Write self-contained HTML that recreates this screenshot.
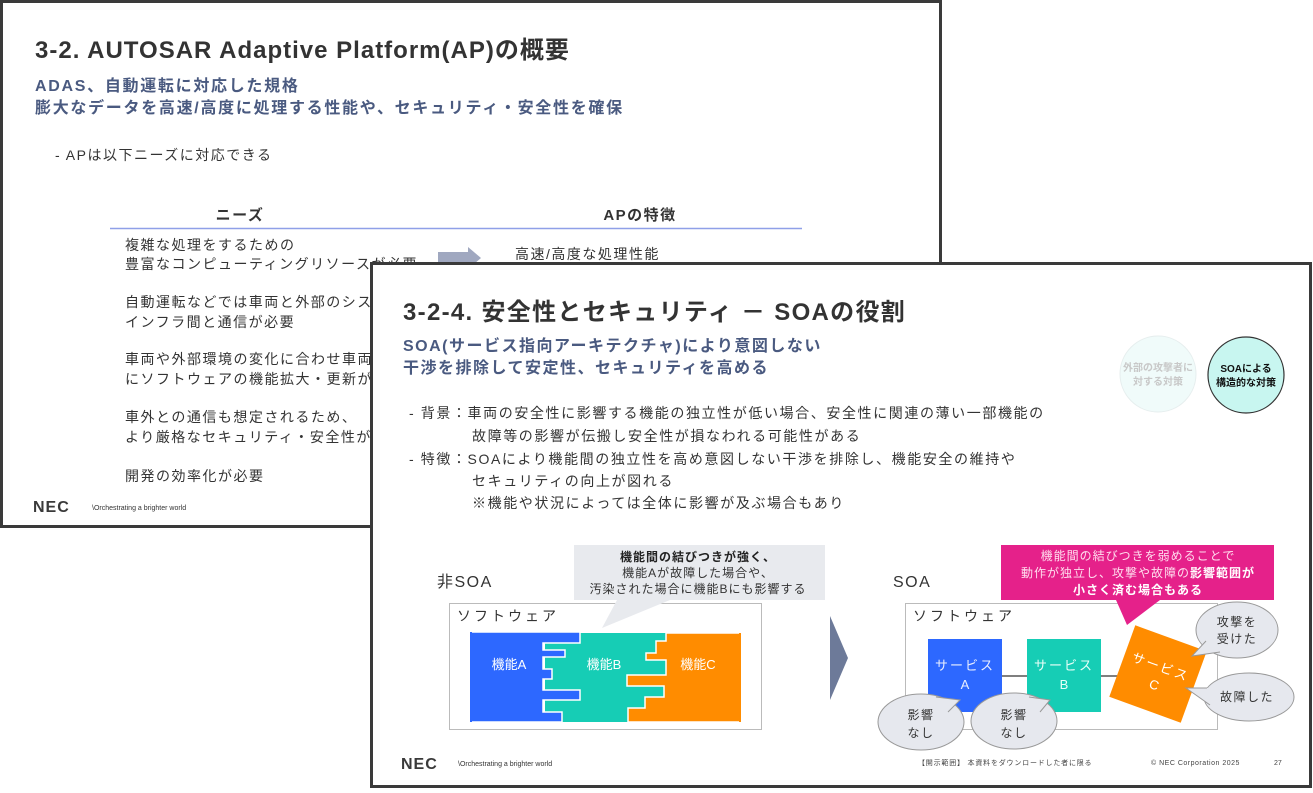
<!DOCTYPE html>
<html><head><meta charset="utf-8"><style>
body{margin:0;background:#fff}
svg text{font-family:"Liberation Sans","Noto Sans CJK JP",sans-serif}
.j{letter-spacing:1.5px}
</style></head><body>
<svg width="1313" height="788" viewBox="0 0 1313 788" xmlns="http://www.w3.org/2000/svg">
<!-- back slide -->
<rect x="1.5" y="1.5" width="939" height="525" fill="#fff" stroke="#3a3a3a" stroke-width="3"/>
<text x="35" y="58" font-size="24" font-weight="bold" fill="#333" letter-spacing="1">3-2. AUTOSAR Adaptive Platform(AP)の概要</text>
<text x="35" y="91" font-size="16" font-weight="bold" fill="#4a5a80" letter-spacing="1.7">ADAS、自動運転に対応した規格</text>
<text x="35" y="113" font-size="16" font-weight="bold" fill="#4a5a80" letter-spacing="1.7">膨大なデータを高速/高度に処理する性能や、セキュリティ・安全性を確保</text>
<text x="55" y="160" font-size="14" fill="#333" class="j">- APは以下ニーズに対応できる</text>
<text x="240" y="220" font-size="15" font-weight="bold" fill="#333" text-anchor="middle" class="j">ニーズ</text>
<text x="640" y="220" font-size="15" font-weight="bold" fill="#333" text-anchor="middle" class="j">APの特徴</text>
<line x1="110" y1="228.5" x2="802" y2="228.5" stroke="#8fa0e8" stroke-width="1.5"/>
<g font-size="14" fill="#333" class="j">
<text x="125" y="250">複雑な処理をするための</text>
<text x="125" y="269">豊富なコンピューティングリソースが必要</text>
<text x="125" y="307">自動運転などでは車両と外部のシステム・</text>
<text x="125" y="327">インフラ間と通信が必要</text>
<text x="125" y="364">車両や外部環境の変化に合わせ車両の</text>
<text x="125" y="384">にソフトウェアの機能拡大・更新が必要</text>
<text x="125" y="422">車外との通信も想定されるため、</text>
<text x="125" y="442">より厳格なセキュリティ・安全性が必要</text>
<text x="125" y="481">開発の効率化が必要</text>
<text x="515" y="259">高速/高度な処理性能</text>
</g>
<polygon points="438,252 468,252 468,247 481,258 468,269 468,264 438,264" fill="#a0a8c0"/>
<text x="33" y="512" font-size="16" font-weight="bold" fill="#3a3a3a" letter-spacing="1">NEC</text>
<text x="92" y="510" font-size="7" fill="#333">\Orchestrating a brighter world</text>

<!-- front slide -->
<rect x="371.5" y="263.5" width="939" height="523" fill="#fff" stroke="#3a3a3a" stroke-width="3"/>
<text x="403" y="320" font-size="24" font-weight="bold" fill="#333" letter-spacing="1.3">3-2-4. 安全性とセキュリティ － SOAの役割</text>
<text x="403" y="351" font-size="16" font-weight="bold" fill="#4a5a80" letter-spacing="1.5">SOA(サービス指向アーキテクチャ)により意図しない</text>
<text x="403" y="373" font-size="16" font-weight="bold" fill="#4a5a80" letter-spacing="1.5">干渉を排除して安定性、セキュリティを高める</text>
<circle cx="1158" cy="374" r="38" fill="#f0fbfa" stroke="#e6eeee"/>
<text x="1158" y="371" font-size="10" fill="#c8c8c8" text-anchor="middle" font-weight="bold">外部の攻撃者に</text>
<text x="1158" y="385" font-size="10" fill="#c8c8c8" text-anchor="middle" font-weight="bold">対する対策</text>
<circle cx="1246" cy="375" r="38" fill="#c8f6f0" stroke="#333" stroke-width="1.2"/>
<text x="1246" y="372" font-size="10" fill="#111" text-anchor="middle" font-weight="bold">SOAによる</text>
<text x="1246" y="386" font-size="10" fill="#111" text-anchor="middle" font-weight="bold">構造的な対策</text>
<g font-size="14" fill="#333" letter-spacing="1.6">
<text x="409" y="418">-  背景：車両の安全性に影響する機能の独立性が低い場合、安全性に関連の薄い一部機能の</text>
<text x="472" y="441">故障等の影響が伝搬し安全性が損なわれる可能性がある</text>
<text x="409" y="464">-  特徴：SOAにより機能間の独立性を高め意図しない干渉を排除し、機能安全の維持や</text>
<text x="472" y="486">セキュリティの向上が図れる</text>
<text x="472" y="508">※機能や状況によっては全体に影響が及ぶ場合もあり</text>
</g>
<!-- non SOA -->
<text x="437" y="587" font-size="16" fill="#333" class="j">非SOA</text>
<rect x="449.5" y="603.5" width="312" height="126" fill="#fff" stroke="#bbb"/>
<text x="457" y="621" font-size="14" fill="#333" letter-spacing="3">ソフトウェア</text>
<polygon points="574,545 825,545 825,600 670,600 602,628 617,600 574,600" fill="#e8eaee"/>
<text x="698" y="561" font-size="12" font-weight="bold" fill="#222" text-anchor="middle" letter-spacing="1">機能間の結びつきが強く、</text>
<text x="698" y="577" font-size="12" fill="#333" text-anchor="middle" letter-spacing="1">機能Aが故障した場合や、</text>
<text x="698" y="593" font-size="12" fill="#333" text-anchor="middle" letter-spacing="1">汚染された場合に機能Bにも影響する</text>
<rect x="545" y="633" width="122" height="89" fill="#16cdb5"/>
<polygon points="470,632 580,632 580,643 543,643 543,650 565,650 565,657 543,657 543,669 552,669 552,679 543,679 543,690 580,690 580,700 543,700 543,712 562,712 562,722 470,722" fill="#2d68ff" stroke="#fff" stroke-width="1.5" stroke-linejoin="miter"/>
<polygon points="666,633 741,633 741,722 628,722 628,708 645,708 645,697 664,697 664,686 627,686 627,675 666,675 666,660 646,660 646,653 656,653 656,641 666,641" fill="#ff8c00" stroke="#fff" stroke-width="1.5"/>
<rect x="470" y="632" width="2" height="90" fill="#2d68ff"/>
<rect x="739" y="633" width="2" height="89" fill="#ff8c00"/>
<text x="509" y="669" font-size="13" fill="#fff" text-anchor="middle">機能A</text>
<text x="604" y="669" font-size="13" fill="#fff" text-anchor="middle">機能B</text>
<text x="698" y="669" font-size="13" fill="#fff" text-anchor="middle">機能C</text>
<polygon points="830,616 848,658 830,700" fill="#6d7a99"/>
<!-- SOA -->
<text x="893" y="587" font-size="16" fill="#333" class="j">SOA</text>
<rect x="905.5" y="603.5" width="312" height="126" fill="#fff" stroke="#bbb"/>
<text x="913" y="621" font-size="14" fill="#333" letter-spacing="3">ソフトウェア</text>
<line x1="1002" y1="676" x2="1160" y2="676" stroke="#555" stroke-width="1.5"/>
<rect x="928" y="639" width="74" height="73" fill="#2d68ff"/>
<rect x="1027" y="639" width="74" height="73" fill="#16cdb5"/>
<text x="965" y="670" font-size="13" fill="#e8eeff" text-anchor="middle" letter-spacing="2">サービス</text>
<text x="965" y="689" font-size="13" fill="#e8eeff" text-anchor="middle">A</text>
<text x="1064" y="670" font-size="13" fill="#e8fff8" text-anchor="middle" letter-spacing="2">サービス</text>
<text x="1064" y="689" font-size="13" fill="#e8fff8" text-anchor="middle">B</text>
<g transform="rotate(20 1158 674)">
<rect x="1120" y="636" width="76" height="76" fill="#ff8c00"/>
<text x="1158" y="671" font-size="13" fill="#fff" text-anchor="middle" letter-spacing="2">サービス</text>
<text x="1158" y="690" font-size="13" fill="#fff" text-anchor="middle">C</text>
</g>
<polygon points="1001,545 1274,545 1274,600 1160,600 1127,625 1116,600 1001,600" fill="#e5218a"/>
<text x="1138" y="560" font-size="12" fill="#fde" text-anchor="middle" letter-spacing="1">機能間の結びつきを弱めることで</text>
<text x="1138" y="577" font-size="12" fill="#fde" text-anchor="middle" letter-spacing="1">動作が独立し、攻撃や故障の<tspan font-weight="bold" fill="#fff">影響範囲が</tspan></text>
<text x="1138" y="594" font-size="12" font-weight="bold" fill="#fff" text-anchor="middle" letter-spacing="1">小さく済む場合もある</text>
<g fill="#e6e8ee" stroke="#999" stroke-width="1">
<ellipse cx="1237" cy="630" rx="41" ry="28"/>
<ellipse cx="1249" cy="697" rx="45" ry="24"/>
<ellipse cx="921" cy="722" rx="43" ry="28"/>
<ellipse cx="1014" cy="721" rx="43" ry="28"/>
</g>
<g fill="#e6e8ee">
<polygon points="1206,640 1192,656 1220,652"/>
<polygon points="1208,688 1186,688 1210,705"/>
<polygon points="935,697 960,700 948,712"/>
<polygon points="1028,697 1050,700 1040,712"/>
</g>
<g fill="none" stroke="#999" stroke-width="1">
<polyline points="1206,641 1192,656 1220,652"/>
<polyline points="1207,688 1186,688 1210,705"/>
<polyline points="936,697 960,700 948,712"/>
<polyline points="1029,697 1050,700 1040,712"/>
</g>
<g font-size="12" fill="#333" text-anchor="middle" letter-spacing="1.5">
<text x="1237" y="626">攻撃を</text><text x="1237" y="643">受けた</text>
<text x="1247" y="701">故障した</text>
<text x="921" y="719">影響</text><text x="921" y="737">なし</text>
<text x="1014" y="719">影響</text><text x="1014" y="737">なし</text>
</g>
<text x="401" y="769" font-size="16" font-weight="bold" fill="#3a3a3a" letter-spacing="1">NEC</text>
<text x="458" y="766" font-size="7" fill="#333">\Orchestrating a brighter world</text>
<text x="918" y="765" font-size="7" fill="#444" letter-spacing="0.8">【開示範囲】 本資料をダウンロードした者に限る</text>
<text x="1151" y="765" font-size="7" fill="#444" letter-spacing="0.5">© NEC Corporation 2025</text>
<text x="1274" y="765" font-size="7" fill="#444">27</text>
</svg>
</body></html>
